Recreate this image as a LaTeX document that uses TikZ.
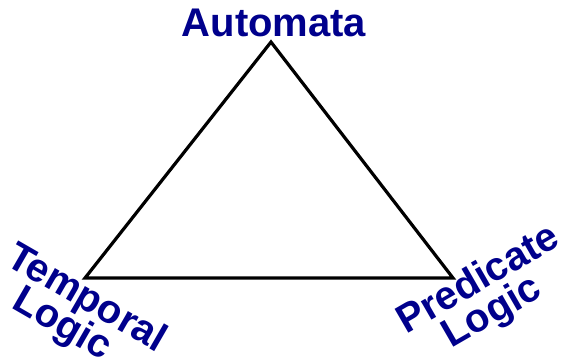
\documentclass[tikz,border=0pt]{standalone}
\usepackage{fontspec}
\setmainfont{Liberation Sans}
\definecolor{lblue}{RGB}{0,0,140}
\begin{document}
\begin{tikzpicture}[x=1pt,y=-1pt,
  lbl/.style={text=lblue,font=\fontsize{40}{42}\selectfont\bfseries,inner sep=0pt},
  edge/.style={draw=black,line width=3.2pt,line join=miter}]
\useasboundingbox (0,0) rectangle (564,360);
\coordinate (A) at (271,42);
\coordinate (T) at (85,278);
\coordinate (P) at (453,278);
\draw[edge] (A) -- (T) -- (P) -- cycle;
\node[lbl,anchor=base] (auto) at (274,36) {Automata};
\node[lbl,anchor=base west,rotate=-30] (temp1) at (4,264) {Temporal};
\node[lbl,anchor=base west,rotate=-30] (temp2) at (10,307.5) {Logic};
\node[lbl,anchor=base west,rotate=30] (pred1) at (406,334.5) {Predicate};
\node[lbl,anchor=base west,rotate=30] (pred2) at (451.5,348.8) {Logic};
\end{tikzpicture}
\end{document}
